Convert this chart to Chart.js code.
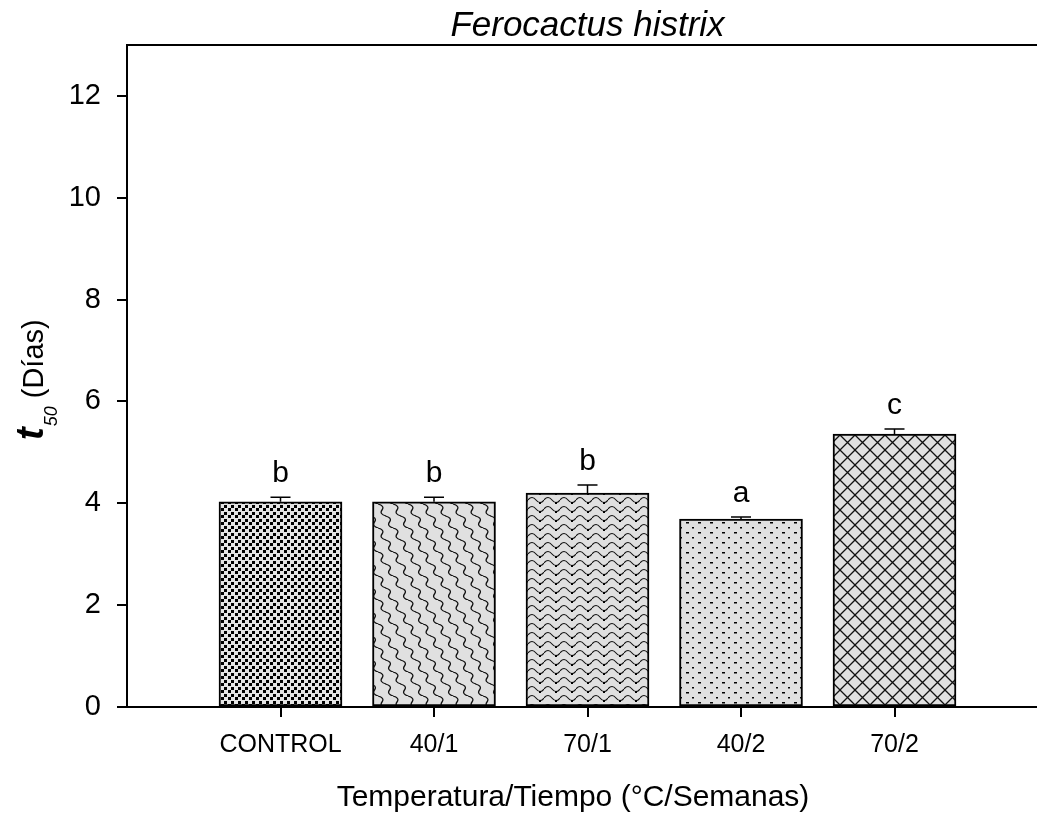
<!DOCTYPE html>
<html>
<head>
<meta charset="utf-8">
<title>Ferocactus histrix</title>
<script src="https://cdn.jsdelivr.net/npm/chart.js@4.4.1/dist/chart.umd.min.js"></script>
<style>
html, body { margin: 0; padding: 0; background: #fff; overflow: hidden; }
#wrap { width: 1100px; height: 818px; }
</style>
</head>
<body>
<div id="wrap"><canvas id="t50Chart" width="1100" height="818"></canvas></div>
<script>
const categories = ['CONTROL', '40/1', '70/1', '40/2', '70/2'];
const t50Values = [4.03, 4.03, 4.20, 3.69, 5.36];
const errorValues = [0.09, 0.09, 0.16, 0.04, 0.10];
const groupLetters = ['b', 'b', 'b', 'a', 'c'];
const yTicks = [0, 2, 4, 6, 8, 10, 12];

const family = '"Liberation Sans", Arial, sans-serif';

// small tiles used as bar fills
function makePattern(w, h, bg, draw) {
    const c = document.createElement('canvas');
    c.width = w;
    c.height = h;
    const g = c.getContext('2d');
    g.fillStyle = bg;
    g.fillRect(0, 0, w, h);
    g.fillStyle = '#000';
    g.strokeStyle = '#111';
    draw(g);
    return c.getContext('2d').createPattern(c, 'repeat');
}

function scale(g, ox, oy) {
    g.beginPath();
    g.moveTo(ox + 3, oy);
    g.quadraticCurveTo(ox + 10, oy + 2, ox + 7, oy + 6);
    g.quadraticCurveTo(ox + 4, oy + 10, ox + 11, oy + 12);
    g.stroke();
}

const fills = [
    makePattern(7, 7, '#e4e4e4', g => {
        g.fillRect(0, 1, 3, 3);
        g.fillRect(4, 4, 3, 3);
    }),
    makePattern(15, 24, '#e0e0e0', g => {
        g.lineWidth = 1.3;
        scale(g, 0, 0);
        scale(g, 7.5, 12);
        scale(g, -7.5, 12);
    }),
    makePattern(16, 9, '#e0e0e0', g => {
        g.lineWidth = 1.2;
        g.beginPath();
        g.moveTo(0, 5);
        g.quadraticCurveTo(4, 0, 8, 5);
        g.quadraticCurveTo(12, 10, 16, 5);
        g.stroke();
        g.fillRect(11, 7, 2, 2);
    }),
    makePattern(12, 10, '#e0e0e0', g => {
        g.fillRect(2, 2, 3, 1.5);
        g.fillRect(8, 7, 2, 1.5);
    }),
    makePattern(15, 15, '#e0e0e0', g => {
        g.lineWidth = 1.3;
        g.beginPath();
        g.moveTo(0, 0);
        g.lineTo(15, 15);
        g.moveTo(15, 0);
        g.lineTo(0, 15);
        g.stroke();
    })
];

const extrasPlugin = {
    id: 'extras',
    afterDatasetsDraw(chart) {
        const ctx = chart.ctx;
        const xs = chart.scales.x, ys = chart.scales.y;
        ctx.save();
        ctx.strokeStyle = '#000';
        ctx.lineWidth = 1.5;
        ctx.fillStyle = '#000';
        ctx.font = '30px ' + family;
        ctx.textAlign = 'center';
        ctx.textBaseline = 'alphabetic';
        t50Values.forEach((v, i) => {
            const px = xs.getPixelForValue(i + 1);
            const top = ys.getPixelForValue(v);
            const cap = ys.getPixelForValue(v + errorValues[i]);
            ctx.beginPath();
            ctx.moveTo(px, top);
            ctx.lineTo(px, cap);
            ctx.moveTo(px - 10, cap);
            ctx.lineTo(px + 10, cap);
            ctx.stroke();
            ctx.fillText(groupLetters[i], px, cap - 15);
        });
        ctx.restore();
    },
    afterDraw(chart) {
        const ctx = chart.ctx;
        const area = chart.chartArea;
        ctx.save();
        ctx.strokeStyle = '#000';
        ctx.lineWidth = 2;
        ctx.beginPath();
        ctx.moveTo(area.left - 1, area.top);
        ctx.lineTo(chart.width, area.top);
        ctx.moveTo(area.left - 10, area.bottom);
        ctx.lineTo(area.left, area.bottom);
        ctx.stroke();

        ctx.fillStyle = '#000';
        ctx.textAlign = 'center';
        ctx.textBaseline = 'alphabetic';
        ctx.font = 'italic 35px ' + family;
        ctx.fillText('Ferocactus histrix', (area.left + area.right) / 2, 36);

        ctx.font = '30px ' + family;
        ctx.fillText('Temperatura/Tiempo (°C/Semanas)', 573, 806);

        ctx.translate(43, 440);
        ctx.rotate(-Math.PI / 2);
        ctx.textAlign = 'left';
        ctx.font = 'italic bold 38px ' + family;
        ctx.fillText('t', 0, 0);
        let w = ctx.measureText('t').width;
        ctx.font = 'italic 18px ' + family;
        ctx.fillText('50', w + 1, 14);
        w += 1 + ctx.measureText('50').width;
        ctx.font = '29px ' + family;
        ctx.fillText(' (Días)', w, 0);
        ctx.restore();
    }
};

new Chart(document.getElementById('t50Chart').getContext('2d'), {
    type: 'bar',
    data: {
        datasets: [{
            data: categories.map((c, i) => ({ x: i + 1, y: t50Values[i] })),
            backgroundColor: fills,
            borderColor: '#000',
            borderWidth: 2,
            borderSkipped: false,
            barThickness: 123
        }]
    },
    options: {
        responsive: false,
        animation: false,
        layout: { padding: { left: 0, top: 45, right: 52, bottom: 0 } },
        plugins: {
            legend: { display: false },
            tooltip: { enabled: false }
        },
        scales: {
            x: {
                type: 'linear',
                min: 0,
                max: 6,
                offset: false,
                afterBuildTicks: s => { s.ticks = s.ticks.filter(t => t.value >= 1 && t.value <= categories.length); },
                afterFit: s => { s.height = 111; },
                ticks: {
                    stepSize: 1,
                    autoSkip: false,
                    maxRotation: 0,
                    padding: 13,
                    color: '#000',
                    font: { family: family, size: 25 },
                    callback: v => categories[v - 1]
                },
                grid: { offset: false, drawOnChartArea: false, tickLength: 10, color: '#000', lineWidth: 2 },
                border: { color: '#000', width: 2 }
            },
            y: {
                min: 0,
                max: 13,
                afterBuildTicks: s => { s.ticks = yTicks.map(v => ({ value: v })); },
                afterFit: s => { s.width = 127; },
                ticks: {
                    padding: 16,
                    color: '#000',
                    font: { family: family, size: 29 }
                },
                grid: { drawOnChartArea: false, tickLength: 10, color: '#000', lineWidth: 2 },
                border: { color: '#000', width: 2 }
            }
        }
    },
    plugins: [extrasPlugin]
});
</script>
</body>
</html>
